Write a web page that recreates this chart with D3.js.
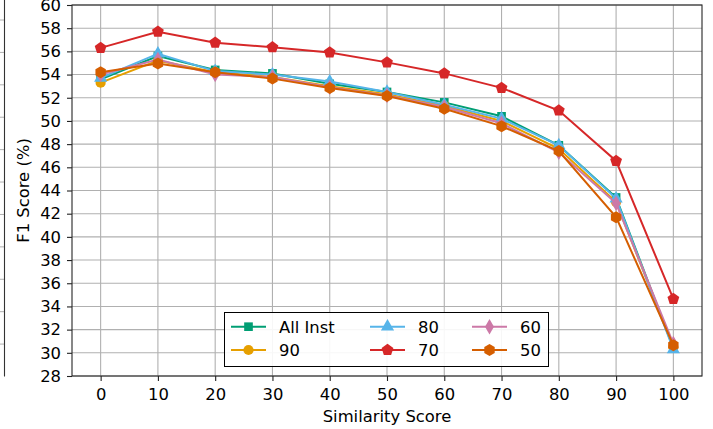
<!DOCTYPE html>
<html lang="en">
<head>
<meta charset="utf-8">
<title>F1 vs similarity</title>
<script src="https://d3js.org/d3.v7.min.js"></script>
<style>
  body { margin: 0; background: #fff; }
  text { font-family: "DejaVu Sans", sans-serif; fill: #000; }
</style>
</head>
<body>
<script>
// data
var simScores = [0, 10, 20, 30, 40, 50, 60, 70, 80, 90, 100]
var yTicks = [28, 30, 32, 34, 36, 38, 40, 42, 44, 46, 48, 50, 52, 54, 56, 58, 60]

var allInst = [53.6, 55.6, 54.4, 54.1, 53.2, 52.5, 51.6, 50.4, 47.9, 43.4, 30.4]
var s90     = [53.3, 55.2, 54.2, 53.8, 53.0, 52.3, 51.3, 50.0, 47.6, 43.0, 30.5]
var s80     = [53.7, 55.8, 54.3, 54.0, 53.4, 52.5, 51.4, 50.2, 47.9, 43.3, 30.3]
var s70     = [56.3, 57.7, 56.75, 56.35, 55.9, 55.05, 54.1, 52.85, 50.9, 46.55, 34.65]
var s60     = [54.0, 55.3, 54.0, 53.8, 52.9, 52.2, 51.2, 49.8, 47.3, 42.9, 30.8]
var s50     = [54.2, 54.95, 54.2, 53.65, 52.85, 52.15, 51.05, 49.55, 47.4, 41.7, 30.65]

var seriesNames = ["All Inst", "90", "80", "70", "60", "50"]
var seriesValues = [allInst, s90, s80, s70, s60, s50]
var seriesColors = ["#009e73", "#e69f00", "#56b4e9", "#d62728", "#cc79a7", "#d55e00"]
var seriesSymbols = [d3.symbolSquare, d3.symbolCircle, d3.symbolTriangle, "pentagon", d3.symbolDiamond, "hexagon"]

var w = 713, h = 429
var margin = {left: 72, right: 11, top: 5, bottom: 53}
var fs = "16.4px"

var svg = d3.select("body").append("svg")
  .attr("width", w).attr("height", h)

var x = d3.scaleLinear().domain([-5, 105]).range([margin.left, w - margin.right])
var y = d3.scaleLinear().domain([28, 60]).range([h - margin.bottom, margin.top])

// polygon markers (matplotlib style pentagon / hexagon)
function polygon(n, r, rot) {
  var pts = d3.range(n).map(function(i) {
    var a = rot + i * 2 * Math.PI / n
    return [r * Math.sin(a), -r * Math.cos(a)]
  })
  return "M" + pts.join("L") + "Z"
}
function markerPath(sym) {
  if (sym === "pentagon") return polygon(5, 6.2, 0)
  if (sym === "hexagon") return polygon(6, 6.0, 0)
  var size = 80
  if (sym === d3.symbolTriangle) size = 75
  if (sym === d3.symbolDiamond) size = 70
  if (sym === d3.symbolCircle) size = 82
  if (sym === d3.symbolSquare) size = 75
  return d3.symbol().type(sym).size(size)()
}

// neighbouring subplot edge on the far left
var yLeft = d3.scaleLinear().domain([0, 11]).range([h - margin.bottom + 0.5, 20])
var leftEdge = svg.append("g")
leftEdge.selectAll("line.gl")
  .data(d3.range(1, 12))
  .enter().append("line")
  .attr("x1", 0).attr("x2", 4)
  .attr("y1", function(d) { return yLeft(d) }).attr("y2", function(d) { return yLeft(d) })
  .attr("stroke", "#b0b0b0").attr("stroke-width", 1)
leftEdge.append("line")
  .attr("x1", 4.5).attr("x2", 4.5).attr("y1", 0).attr("y2", h - margin.bottom + 0.5)
  .attr("stroke", "#333").attr("stroke-width", 1.1)

// grid
var grid = svg.append("g")
grid.selectAll("line.gx").data(simScores).enter().append("line")
  .attr("x1", function(d) { return x(d) }).attr("x2", function(d) { return x(d) })
  .attr("y1", y(28)).attr("y2", y(60))
  .attr("stroke", "#b0b0b0").attr("stroke-width", 1.1)
grid.selectAll("line.gy").data(yTicks).enter().append("line")
  .attr("x1", x(-5)).attr("x2", x(105))
  .attr("y1", function(d) { return y(d) }).attr("y2", function(d) { return y(d) })
  .attr("stroke", "#b0b0b0").attr("stroke-width", 1.1)

// axes
svg.append("g")
  .attr("transform", "translate(0," + y(28) + ")")
  .call(d3.axisBottom(x).tickValues(simScores).tickSize(5).tickPadding(7))
svg.append("g")
  .attr("transform", "translate(" + x(-5) + ",0)")
  .call(d3.axisLeft(y).tickValues(yTicks).tickSize(5).tickPadding(6))
svg.selectAll(".tick text").style("font-size", fs).style("font-family", "DejaVu Sans")
svg.selectAll(".domain").attr("stroke", "none")
svg.selectAll(".tick line").attr("stroke", "#222").attr("stroke-width", 1.1)

// frame
svg.append("rect")
  .attr("x", x(-5)).attr("y", y(60))
  .attr("width", x(105) - x(-5)).attr("height", y(28) - y(60))
  .attr("fill", "none").attr("stroke", "#262626").attr("stroke-width", 1.1)

// lines + markers
var line = d3.line()
  .x(function(d, i) { return x(simScores[i]) })
  .y(function(d) { return y(d) })

seriesValues.forEach(function(vals, k) {
  var g = svg.append("g")
  g.append("path")
    .datum(vals)
    .attr("d", line)
    .attr("fill", "none")
    .attr("stroke", seriesColors[k])
    .attr("stroke-width", 2)
  g.selectAll("path.m").data(vals).enter().append("path")
    .attr("d", markerPath(seriesSymbols[k]))
    .attr("transform", function(d, i) { return "translate(" + x(simScores[i]) + "," + y(d) + ")" })
    .attr("fill", seriesColors[k])
})

// axis labels
svg.append("text")
  .attr("x", (x(-5) + x(105)) / 2).attr("y", 422)
  .attr("text-anchor", "middle")
  .style("font-size", fs)
  .text("Similarity Score")
svg.append("text")
  .attr("transform", "translate(28.5," + (y(44)) + ") rotate(-90)")
  .attr("text-anchor", "middle")
  .style("font-size", fs)
  .text("F1 Score (%)")

// legend (3 columns, filled column-wise)
var legend = svg.append("g")
legend.append("rect")
  .attr("x", 224.5).attr("y", 312.5).attr("width", 324).attr("height", 54)
  .attr("fill", "#fff").attr("fill-opacity", 0.9)
  .attr("stroke", "#000").attr("stroke-width", 1)
var colX = [231, 370, 472]
var rowY = [326.7, 350]
seriesNames.forEach(function(name, k) {
  var cx = colX[Math.floor(k / 2)], cy = rowY[k % 2]
  legend.append("line")
    .attr("x1", cx).attr("x2", cx + 35).attr("y1", cy).attr("y2", cy)
    .attr("stroke", seriesColors[k]).attr("stroke-width", 2)
  legend.append("path")
    .attr("d", markerPath(seriesSymbols[k]))
    .attr("transform", "translate(" + (cx + 17.5) + "," + cy + ")")
    .attr("fill", seriesColors[k])
  legend.append("text")
    .attr("x", cx + 48).attr("y", cy + 6)
    .style("font-size", fs)
    .text(name)
})
</script>
</body>
</html>
